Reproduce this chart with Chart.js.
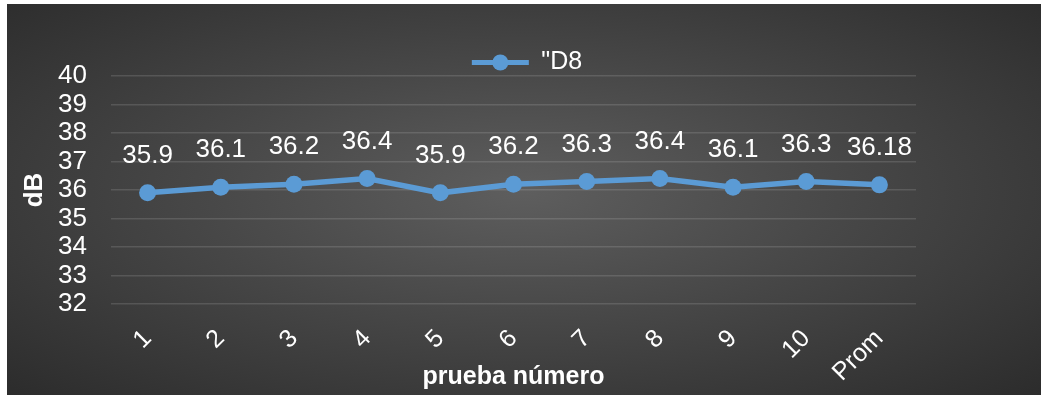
<!DOCTYPE html>
<html>
<head>
<meta charset="utf-8">
<script src="https://cdn.jsdelivr.net/npm/chart.js@4/dist/chart.umd.min.js"></script>
<style>
  html, body { margin: 0; padding: 0; background: #fff; }
  #wrap {
    position: absolute; left: 7px; top: 4px; width: 1034px; height: 391px;
    background: radial-gradient(ellipse farthest-corner at 50% 48%, #5e5e5e 0%, #474747 45%, #2c2c2c 100%);
  }
</style>
</head>
<body>
<div id="wrap"><canvas id="myChart" width="1034" height="391"></canvas></div>
<script>
const categories = ["1", "2", "3", "4", "5", "6", "7", "8", "9", "10", "Prom"];
const values = [35.9, 36.1, 36.2, 36.4, 35.9, 36.2, 36.3, 36.4, 36.1, 36.3, 36.18];
const seriesName = '"D8';
const yMin = 32;
const yMax = 40;
const yStep = 1;
const xTitle = "prueba número";
const yTitle = "dB";

const blue = "#5b9bd5";
const font = "'Liberation Sans', Arial, sans-serif";

// value labels above each point
const pointLabels = {
  id: "pointLabels",
  afterDatasetsDraw(chart) {
    const ctx = chart.ctx;
    const meta = chart.getDatasetMeta(0);
    ctx.save();
    ctx.fillStyle = "#fff";
    ctx.font = "26px " + font;
    ctx.textAlign = "center";
    ctx.textBaseline = "middle";
    meta.data.forEach((pt, i) => {
      ctx.fillText(String(chart.data.datasets[0].data[i]), pt.x, pt.y - 37);
    });
    ctx.restore();
  }
};

// marker on the legend line
const legendMarker = {
  id: "legendMarker",
  afterDraw(chart) {
    const box = chart.legend.legendHitBoxes[0];
    if (!box) return;
    const ctx = chart.ctx;
    ctx.save();
    ctx.fillStyle = blue;
    ctx.beginPath();
    ctx.arc(box.left + 28.5, box.top + box.height / 2, 8, 0, Math.PI * 2);
    ctx.fill();
    ctx.restore();
  }
};

let ctx = document.getElementById("myChart").getContext("2d");
let myChart = new Chart(ctx, {
  type: "line",
  data: {
    labels: categories,
    datasets: [
      {
        label: seriesName,
        data: values,
        borderColor: blue,
        backgroundColor: blue,
        borderWidth: 5.5,
        pointRadius: 8.5,
        pointBackgroundColor: blue,
        pointBorderColor: blue,
        pointBorderWidth: 0,
        fill: false,
        tension: 0
      }
    ]
  },
  options: {
    responsive: false,
    animation: false,
    layout: { padding: { left: 6, right: 0, top: 42, bottom: 3 } },
    plugins: {
      tooltip: { enabled: false },
      legend: {
        position: "top",
        maxHeight: 30,
        labels: {
          color: "#fff",
          font: { family: font, size: 25 },
          boxWidth: 57,
          boxHeight: 5,
          padding: 4,
          generateLabels: () => [{
            text: seriesName, fillStyle: blue, strokeStyle: blue,
            lineWidth: 0, fontColor: "#fff", datasetIndex: 0
          }]
        }
      }
    },
    scales: {
      x: {
        offset: true,
        grid: { display: false, drawTicks: false },
        border: { display: false },
        ticks: {
          color: "#fff",
          font: { family: font, size: 25 },
          minRotation: 45,
          maxRotation: 45,
          autoSkip: false,
          padding: 20
        },
        title: {
          display: true,
          text: xTitle,
          color: "#fff",
          font: { family: font, size: 25, weight: "bold" },
          padding: { top: 0, bottom: 0 }
        },
        afterFit(scale) { scale.height = 88; }
      },
      y: {
        min: yMin,
        max: yMax,
        grid: { color: "rgba(255,255,255,0.13)", lineWidth: 1.5, drawTicks: false },
        border: { display: false },
        ticks: {
          stepSize: yStep,
          autoSkip: false,
          color: "#fff",
          font: { family: font, size: 26 },
          padding: 24
        },
        title: {
          display: true,
          text: yTitle,
          color: "#fff",
          font: { family: font, size: 26, weight: "bold" },
          padding: { top: 6, bottom: 0 }
        },
        afterFit(scale) { scale.width = 98; }
      },
      // empty strip on the right, keeps the plot narrower than the frame
      yRight: {
        position: "right",
        display: true,
        grid: { display: false, drawTicks: false },
        border: { display: false },
        ticks: { display: false },
        afterFit(scale) { scale.width = 125; }
      }
    }
  },
  plugins: [pointLabels, legendMarker]
});
</script>
</body>
</html>
